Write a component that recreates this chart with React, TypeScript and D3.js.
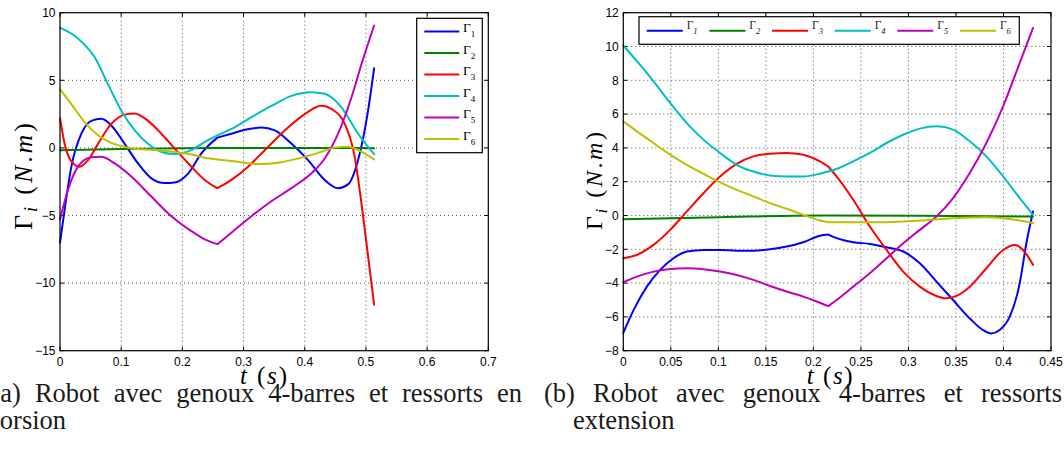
import { useLayoutEffect, useRef, useState } from 'react'
import * as d3 from 'd3'

type Pt = [number, number]

// (a) genoux 4-barres, ressorts en torsion — [t (s), torque (N.m)]
const torsionG1: Pt[] = [[0, -7.0], [0.0076, -4.56], [0.0185, -1.4], [0.0349, 1.05], [0.0512, 2.0], [0.0676, 2.15], [0.0839, 1.66], [0.1057, 0.3], [0.1275, -1.15], [0.1493, -2.25], [0.1711, -2.6], [0.1875, -2.56], [0.2093, -1.9], [0.2311, -0.4], [0.2572, 0.76], [0.2801, 1.05], [0.3019, 1.34], [0.3292, 1.5], [0.351, 1.3], [0.3782, 0.32], [0.4054, -0.9], [0.4327, -2.37], [0.4545, -2.98], [0.4708, -2.7], [0.4872, -0.9], [0.5035, 2.76], [0.5134, 5.9]]
const torsionG2: Pt[] = [[0, -0.17], [0.1, -0.08], [0.2, -0.02], [0.2572, 0], [0.35, 0], [0.45, 0], [0.5134, -0.02]]
const torsionG3: Pt[] = [[0, 2.2], [0.0076, 0.3], [0.0185, -1.0], [0.0322, -1.39], [0.0458, -0.9], [0.0621, 0.3], [0.0839, 1.78], [0.1057, 2.46], [0.1221, 2.55], [0.1439, 2.0], [0.1657, 1.05], [0.1875, -0.05], [0.2147, -1.39], [0.2365, -2.37], [0.2572, -2.98], [0.2801, -2.37], [0.3074, -1.39], [0.3346, -0.17], [0.3673, 1.29], [0.4, 2.5], [0.4272, 3.12], [0.4436, 2.88], [0.4654, 1.78], [0.4817, -0.66], [0.4926, -4.07], [0.5035, -8.0], [0.5134, -11.6]]
const torsionG4: Pt[] = [[0, 8.9], [0.0294, 8.1], [0.0567, 6.7], [0.0785, 4.7], [0.1003, 2.75], [0.1221, 1.3], [0.1439, 0.3], [0.1657, -0.3], [0.1875, -0.46], [0.2147, -0.17], [0.2365, 0.44], [0.2572, 0.93], [0.2801, 1.4], [0.3128, 2.27], [0.3455, 3.1], [0.3782, 3.85], [0.4109, 4.12], [0.4327, 4.0], [0.46, 3.0], [0.4872, 1.05], [0.5134, -0.46]]
const torsionG5: Pt[] = [[0, -5.3], [0.0131, -3.1], [0.0294, -1.39], [0.0512, -0.7], [0.0676, -0.66], [0.0894, -1.15], [0.1166, -2.12], [0.1493, -3.6], [0.182, -5.05], [0.2147, -6.15], [0.2365, -6.76], [0.2572, -7.12], [0.2801, -6.27], [0.3128, -5.05], [0.3455, -3.95], [0.3782, -2.98], [0.4109, -1.88], [0.4327, -0.78], [0.4545, 1.05], [0.4763, 3.73], [0.4926, 6.17], [0.5134, 9.05]]
const torsionG6: Pt[] = [[0, 4.34], [0.0185, 3.24], [0.0403, 1.9], [0.0621, 0.93], [0.0839, 0.37], [0.1057, 0.07], [0.133, -0.1], [0.1602, -0.17], [0.1875, -0.3], [0.2147, -0.49], [0.2365, -0.73], [0.2572, -0.85], [0.291, -1.02], [0.3237, -1.2], [0.3564, -1.1], [0.3891, -0.78], [0.4218, -0.37], [0.449, 0.02], [0.4708, 0.08], [0.4872, -0.17], [0.5134, -0.85]]

// (b) genoux 4-barres, ressorts en extension
const extensionG1: Pt[] = [[0, -6.94], [0.0108, -5.6], [0.0248, -4.21], [0.0388, -3.22], [0.0528, -2.53], [0.0668, -2.13], [0.0843, -2.04], [0.1018, -2.04], [0.1193, -2.08], [0.1368, -2.08], [0.1544, -2.0], [0.1719, -1.84], [0.1894, -1.58], [0.2069, -1.2], [0.2157, -1.13], [0.2244, -1.34], [0.2419, -1.58], [0.2594, -1.68], [0.277, -1.88], [0.2945, -2.13], [0.312, -2.83], [0.3295, -3.91], [0.347, -5.0], [0.3645, -6.09], [0.3785, -6.78], [0.3873, -6.98], [0.396, -6.78], [0.4066, -5.99], [0.4171, -4.01], [0.4241, -1.64], [0.4311, 0.24]]
const extensionG2: Pt[] = [[0, -0.22], [0.1018, -0.1], [0.2069, 0], [0.2157, 0], [0.312, -0.02], [0.4311, -0.06]]
const extensionG3: Pt[] = [[0, -2.53], [0.0143, -2.33], [0.0318, -1.74], [0.0493, -0.85], [0.0668, 0.24], [0.0843, 1.32], [0.1018, 2.31], [0.1193, 3.06], [0.1368, 3.5], [0.1544, 3.66], [0.1719, 3.7], [0.1894, 3.6], [0.2069, 3.2], [0.2157, 2.9], [0.2244, 2.31], [0.2419, 0.93], [0.2594, -0.65], [0.277, -2.04], [0.2945, -3.32], [0.312, -4.21], [0.3295, -4.76], [0.34, -4.9], [0.3505, -4.76], [0.3645, -4.21], [0.382, -3.12], [0.3996, -2.04], [0.4118, -1.74], [0.4206, -2.04], [0.4311, -2.92]]
const extensionG4: Pt[] = [[0, 10.06], [0.0143, 9.13], [0.0318, 7.94], [0.0493, 6.66], [0.0668, 5.47], [0.0843, 4.49], [0.1018, 3.7], [0.1193, 3.0], [0.1368, 2.6], [0.1544, 2.37], [0.1719, 2.31], [0.1894, 2.31], [0.2069, 2.47], [0.2157, 2.6], [0.2244, 2.75], [0.2419, 3.2], [0.2594, 3.7], [0.277, 4.29], [0.2945, 4.78], [0.312, 5.14], [0.3295, 5.28], [0.347, 5.08], [0.3645, 4.39], [0.382, 3.5], [0.3996, 2.31], [0.4171, 1.03], [0.4311, 0.04]]
const extensionG5: Pt[] = [[0, -3.95], [0.0143, -3.62], [0.0318, -3.32], [0.0493, -3.16], [0.0668, -3.12], [0.0843, -3.18], [0.1018, -3.32], [0.1193, -3.52], [0.1368, -3.81], [0.1544, -4.17], [0.1719, -4.5], [0.1894, -4.8], [0.2069, -5.16], [0.2157, -5.36], [0.2244, -5.0], [0.2419, -4.21], [0.2594, -3.42], [0.277, -2.53], [0.2945, -1.64], [0.312, -0.85], [0.3295, -0.06], [0.347, 1.03], [0.3645, 2.51], [0.382, 4.29], [0.3996, 6.46], [0.4171, 9.03], [0.4311, 11.1]]
const extensionG6: Pt[] = [[0, 5.57], [0.0143, 4.98], [0.0318, 4.29], [0.0493, 3.6], [0.0668, 3.0], [0.0843, 2.47], [0.1018, 1.96], [0.1193, 1.52], [0.1368, 1.13], [0.1544, 0.73], [0.1719, 0.4], [0.1894, 0.04], [0.2069, -0.3], [0.2157, -0.4], [0.2419, -0.4], [0.277, -0.4], [0.312, -0.3], [0.347, -0.16], [0.382, -0.1], [0.3996, -0.16], [0.4171, -0.3], [0.4311, -0.45]]

const torsionKink = 0.2572
const extensionKink = 0.2157

const subscripts = ['1', '2', '3', '4', '5', '6']
const colors = ['#0000ff', '#008000', '#ff0000', '#00bfbf', '#bf00bf', '#bfbf00']

const torsionXTicks = [0, 0.1, 0.2, 0.3, 0.4, 0.5, 0.6, 0.7]
const torsionYTicks = [-15, -10, -5, 0, 5, 10]
const extensionXTicks = [0, 0.05, 0.1, 0.15, 0.2, 0.25, 0.3, 0.35, 0.4, 0.45]
const extensionYTicks = [-8, -6, -4, -2, 0, 2, 4, 6, 8, 10, 12]

const captionA = ['(a)', 'Robot', 'avec', 'genoux', '4-barres', 'et', 'ressorts', 'en']
const captionB = ['(b)', 'Robot', 'avec', 'genoux', '4-barres', 'et', 'ressorts', 'en']

const SANS = '"Liberation Sans", Arial, sans-serif'
const SERIF = '"Liberation Serif", "Times New Roman", serif'

const fmt = (v: number) => String(+v.toFixed(2)).replace('-', '\u2212')

// one justified caption line: words spread so that word `fitTo` ends at `end`
function JustifiedLine({ words, start, end, fitTo, y }: { words: string[]; start: number; end: number; fitTo: number; y: number }) {
  const refs = useRef<(SVGTextElement | null)[]>([])
  const [xs, setXs] = useState<number[]>(() => words.map((_, i) => start + i * 60))

  useLayoutEffect(() => {
    const widths = refs.current.map(el => (el ? el.getComputedTextLength() : 0))
    const used = d3.sum(widths.slice(0, fitTo + 1))
    const gap = (end - start - used) / fitTo
    const pos: number[] = []
    let cur = start
    widths.forEach(w => { pos.push(cur); cur += w + gap })
    setXs(pos)
  }, [words, start, end, fitTo])

  return (
    <g>
      {words.map((w, i) => (
        <text key={i} ref={el => { refs.current[i] = el }} x={xs[i]} y={y}>{w}</text>
      ))}
    </g>
  )
}

interface PanelProps {
  series: Pt[][]
  kink: number
  xTicks: number[]
  yTicks: number[]
  box: { left: number; right: number; top: number; bottom: number }
  yLabel: { x: number; cy: number; len: number; size: number }
  xLabel: { x: number; len: number }
  legend: 'vertical' | 'horizontal'
}

function Panel({ series, kink, xTicks, yTicks, box, yLabel, xLabel, legend }: PanelProps) {
  const x = d3.scaleLinear().domain([xTicks[0], xTicks[xTicks.length - 1]]).range([box.left, box.right])
  const y = d3.scaleLinear().domain([yTicks[0], yTicks[yTicks.length - 1]]).range([box.bottom, box.top])

  const line = d3.line<Pt>()
    .x(d => x(d[0]))
    .y(d => y(d[1]))
    .curve(d3.curveMonotoneX)

  // keep the kink sharp: draw both halves and join them
  const pathFor = (pts: Pt[]) => {
    const a = pts.filter(p => p[0] <= kink + 1e-9)
    const b = pts.filter(p => p[0] >= kink - 1e-9)
    return line(a)! + line(b)!.replace(/^M/, 'L')
  }

  const tick = 4
  const gridX = xTicks.slice(1, -1)
  const gridY = yTicks.slice(1, -1)

  return (
    <g>
      {/* grid */}
      {gridX.map(t => (
        <line key={'gx' + t} x1={x(t)} x2={x(t)} y1={box.top} y2={box.bottom}
          stroke="#444" strokeWidth={0.9} strokeDasharray="1 3" />
      ))}
      {gridY.map(t => (
        <line key={'gy' + t} x1={box.left} x2={box.right} y1={y(t)} y2={y(t)}
          stroke="#444" strokeWidth={0.9} strokeDasharray="1 3" />
      ))}

      {/* ticks, inside, on all four sides */}
      {xTicks.map(t => (
        <g key={'tx' + t}>
          <line x1={x(t)} x2={x(t)} y1={box.bottom} y2={box.bottom - tick} stroke="#000" />
          <line x1={x(t)} x2={x(t)} y1={box.top} y2={box.top + tick} stroke="#000" />
          <text x={x(t)} y={box.bottom + 15.5} textAnchor="middle" fontSize={12} fontFamily={SANS}>{fmt(t)}</text>
        </g>
      ))}
      {yTicks.map(t => (
        <g key={'ty' + t}>
          <line x1={box.left} x2={box.left + tick} y1={y(t)} y2={y(t)} stroke="#000" />
          <line x1={box.right} x2={box.right - tick} y1={y(t)} y2={y(t)} stroke="#000" />
          <text x={box.left - 4.5} y={y(t) + 4.2} textAnchor="end" fontSize={12} fontFamily={SANS}>{fmt(t)}</text>
        </g>
      ))}

      {/* series */}
      {series.map((s, i) => (
        <path key={'s' + i} d={pathFor(s)} fill="none" stroke={colors[i]} strokeWidth={2}
          strokeLinejoin="round" strokeLinecap="round" />
      ))}

      {/* axes box */}
      <rect x={box.left} y={box.top} width={box.right - box.left} height={box.bottom - box.top}
        fill="none" stroke="#000" strokeWidth={1.2} />

      {/* legend */}
      {legend === 'vertical' ? (
        <g>
          <rect x={416.7} y={18.3} width={65.6} height={134.4} fill="#fff" stroke="#000" strokeWidth={1.2} />
          {subscripts.map((s, i) => {
            const ry = 31.6 + i * 21.5
            return (
              <g key={'lg' + i}>
                <line x1={424.3} x2={459.3} y1={ry} y2={ry} stroke={colors[i]} strokeWidth={2} />
                <text x={463} y={ry + 0.5} fontSize={13.5} fontFamily={SERIF}>
                  Γ<tspan fontSize={9} dy={5}>{s}</tspan>
                </text>
              </g>
            )
          })}
        </g>
      ) : (
        <g>
          <rect x={639} y={16.7} width={380.3} height={27.6} fill="#fff" stroke="#000" strokeWidth={1.2} />
          {subscripts.map((s, i) => {
            const lx = 646.7 + i * 62.65
            return (
              <g key={'lg' + i}>
                <line x1={lx} x2={lx + 36} y1={30.8} y2={30.8} stroke={colors[i]} strokeWidth={2} />
                <text x={lx + 40} y={29.3} fontSize={11.5} fontFamily={SERIF} fill="#222">
                  Γ<tspan fontSize={8.5} fontStyle="italic" dy={5}>{s}</tspan>
                </text>
              </g>
            )
          })}
        </g>
      )}

      {/* axis labels */}
      <text transform={`translate(${yLabel.x},${yLabel.cy}) rotate(-90)`} textAnchor="middle"
        fontSize={yLabel.size} fontFamily={SERIF} textLength={yLabel.len} lengthAdjust="spacing">
        Γ<tspan fontStyle="italic" fontSize={yLabel.size * 0.7} dy={5}>i</tspan>
        <tspan dy={-5}> (</tspan><tspan fontStyle="italic">N</tspan>.<tspan fontStyle="italic">m</tspan>)
      </text>
      <text x={xLabel.x} y={383.5} fontSize={25} fontFamily={SERIF} textLength={xLabel.len} lengthAdjust="spacing">
        <tspan fontStyle="italic">t</tspan> (<tspan fontStyle="italic">s</tspan>)
      </text>
    </g>
  )
}

export default function App() {
  return (
    <svg width={1064} height={472} style={{ position: 'absolute', left: 0, top: 0, background: '#fff' }}>
      <Panel
        series={[torsionG1, torsionG2, torsionG3, torsionG4, torsionG5, torsionG6]}
        kink={torsionKink}
        xTicks={torsionXTicks}
        yTicks={torsionYTicks}
        box={{ left: 60, right: 488.3, top: 12.7, bottom: 350.7 }}
        yLabel={{ x: 31.5, cy: 176.5, len: 107, size: 26 }}
        xLabel={{ x: 240, len: 47 }}
        legend="vertical"
      />
      <Panel
        series={[extensionG1, extensionG2, extensionG3, extensionG4, extensionG5, extensionG6]}
        kink={extensionKink}
        xTicks={extensionXTicks}
        yTicks={extensionYTicks}
        box={{ left: 623.3, right: 1051, top: 12.7, bottom: 350.7 }}
        yLabel={{ x: 601.5, cy: 181, len: 98, size: 24 }}
        xLabel={{ x: 806.7, len: 46 }}
        legend="horizontal"
      />

      {/* captions */}
      <g fontFamily={SERIF} fontSize={26.5} fill="#1a1a1a">
        <JustifiedLine words={captionA} start={-8.5} end={522} fitTo={7} y={401.5} />
        <text x={-7.5} y={428.5}>torsion</text>
        <JustifiedLine words={captionB} start={544} end={1062} fitTo={6} y={401.5} />
        <text x={573} y={428.5}>extension</text>
      </g>
    </svg>
  )
}
